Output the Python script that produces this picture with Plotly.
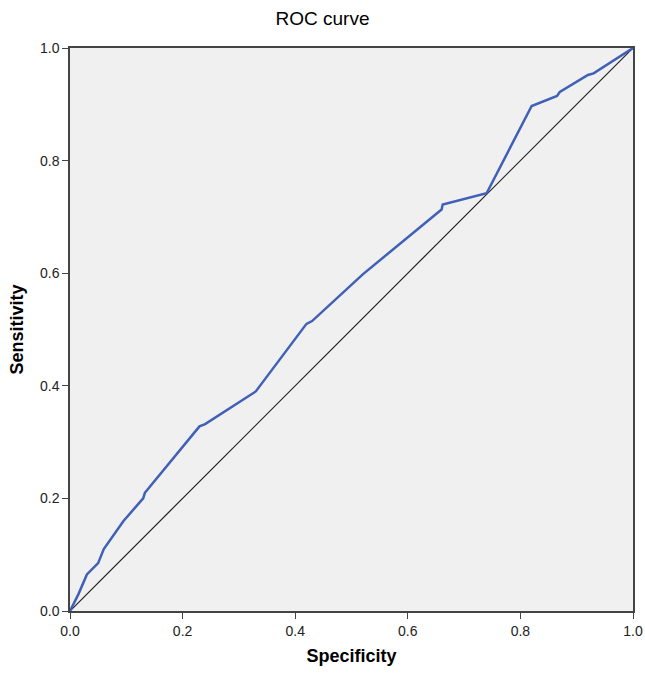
import plotly.graph_objects as go

# ROC curve values
specificity = [0.0, 0.015, 0.03, 0.05, 0.06, 0.095, 0.13, 0.133, 0.23, 0.24, 0.33,
               0.42, 0.43, 0.52, 0.66, 0.662, 0.74, 0.82, 0.865, 0.87, 0.92, 0.93, 1.0]
sensitivity = [0.0, 0.03, 0.065, 0.085, 0.11, 0.16, 0.2, 0.21, 0.328, 0.332, 0.39,
               0.51, 0.515, 0.598, 0.713, 0.722, 0.742, 0.897, 0.915, 0.922, 0.952, 0.955, 1.0]
ref_line = [0.0, 1.0]
tick_vals = [0.0, 0.2, 0.4, 0.6, 0.8, 1.0]
tick_text = ["0.0", "0.2", "0.4", "0.6", "0.8", "1.0"]

axis_color = "#444444"

fig = go.Figure()
fig.add_trace(go.Scatter(
    x=ref_line, y=ref_line,
    mode="lines",
    line=dict(color="#222222", width=1.2),
    showlegend=False,
))
fig.add_trace(go.Scatter(
    x=specificity, y=sensitivity,
    mode="lines",
    line=dict(color="#4060B8", width=2.5),
    showlegend=False,
))

fig.update_layout(
    width=645, height=681,
    margin=dict(l=70, r=12, t=48, b=70, autoexpand=False),
    plot_bgcolor="#F0F0F0",
    paper_bgcolor="white",
    font=dict(family="Liberation Sans, Arial", color="#222222", size=14),
    title=dict(text="ROC curve", x=0.5, xanchor="center", y=0.973, yanchor="middle",
               font=dict(size=19, color="black")),
)
fig.update_xaxes(
    range=[0, 1], tickvals=tick_vals, ticktext=tick_text,
    showgrid=False, zeroline=False, automargin=False,
    showline=True, linecolor=axis_color, linewidth=1.5, mirror=True,
    ticks="outside", ticklen=6, tickcolor=axis_color,
    title=dict(text="<b>Specificity</b>", font=dict(size=18, color="black"), standoff=12),
)
fig.update_yaxes(
    range=[0, 1], tickvals=tick_vals, ticktext=tick_text,
    showgrid=False, zeroline=False, automargin=False,
    showline=True, linecolor=axis_color, linewidth=1.5, mirror=True,
    ticks="outside", ticklen=6, tickcolor=axis_color,
    title=dict(text="<b>Sensitivity</b>", font=dict(size=18, color="black"), standoff=12),
)

# drop the page's default body margin so the figure fills the window exactly
fig.write_html("out.html", config={"displayModeBar": False},
               post_script="document.body.style.margin='0';")
